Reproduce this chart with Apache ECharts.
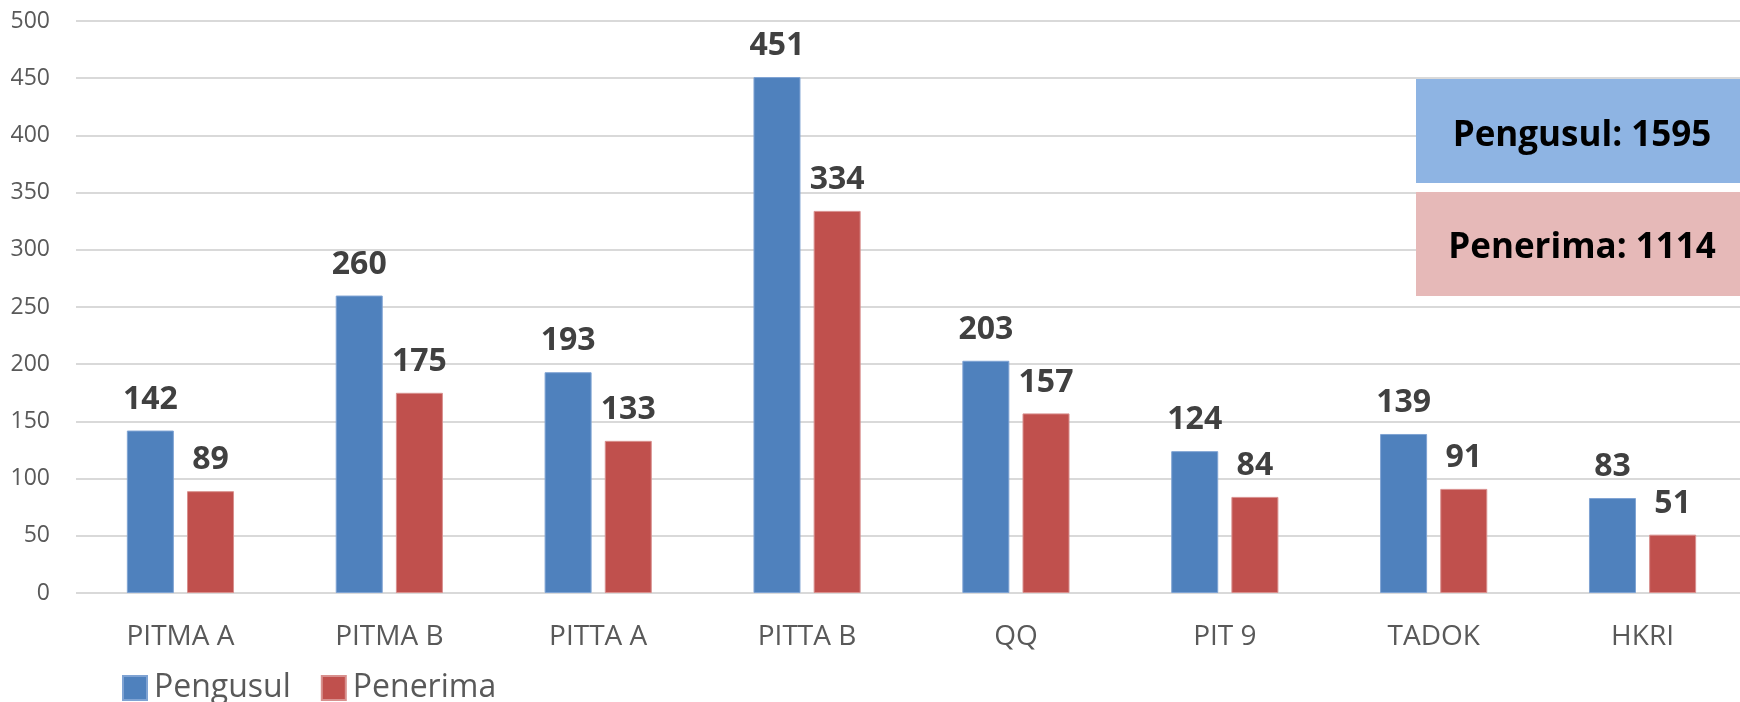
<!DOCTYPE html>
<html>
<head>
<meta charset="utf-8">
<script src="https://cdn.jsdelivr.net/npm/echarts@6/dist/echarts.min.js"></script>
<style>
html,body{margin:0;padding:0;background:#fff;}
#chart{width:1740px;height:702px;}
</style>
</head>
<body>
<div id="chart"></div>
<script>
const categories = ['PITMA A', 'PITMA B', 'PITTA A', 'PITTA B', 'QQ', 'PIT 9', 'TADOK', 'HKRI'];
const pengusul = [142, 260, 193, 451, 203, 124, 139, 83];
const penerima = [89, 175, 133, 334, 157, 84, 91, 51];
const yTicks = { min: 0, max: 500, interval: 50 };

const sum = a => a.reduce((s, v) => s + v, 0);
const totalPengusul = sum(pengusul);
const totalPenerima = sum(penerima);

const chart = echarts.init(document.getElementById('chart'), null, { renderer: 'canvas' });
const FONT = '"Open Sans", "Noto Sans", sans-serif';

const labelStyle = {
  show: true,
  position: 'top',
  distance: 15,
  fontFamily: FONT,
  fontWeight: 'bold',
  fontSize: 32,
  color: '#404040'
};

chart.setOption({
  animation: false,
  backgroundColor: '#ffffff',
  textStyle: { fontFamily: FONT },
  grid: {
    left: 76,
    top: 21,
    width: 1671,
    height: 572,
    containLabel: false,
    outerBoundsMode: 'none'
  },
  legend: {
    data: ['Pengusul', 'Penerima'],
    left: 117,
    top: 667,
    itemWidth: 24,
    itemHeight: 24,
    itemGap: 30,
    icon: 'rect',
    textStyle: { fontFamily: FONT, fontSize: 32, color: '#595959', padding: [0, 0, 0, 2] }
  },
  xAxis: {
    type: 'category',
    data: categories,
    axisLine: { show: false },
    axisTick: { show: false },
    axisLabel: { fontFamily: FONT, fontSize: 28, color: '#595959', margin: 30 }
  },
  yAxis: {
    type: 'value',
    min: yTicks.min,
    max: yTicks.max,
    interval: yTicks.interval,
    axisLine: { show: false },
    axisTick: { show: false },
    axisLabel: { fontFamily: FONT, fontSize: 23, color: '#595959', margin: 26 },
    splitLine: { lineStyle: { color: '#D9D9D9', width: 2 } }
  },
  series: [
    {
      name: 'Pengusul',
      type: 'bar',
      data: pengusul,
      barWidth: 47,
      barGap: '28%',
      itemStyle: { color: '#4F81BD', borderColor: '#7FA3D3', borderWidth: 1 },
      label: labelStyle
    },
    {
      name: 'Penerima',
      type: 'bar',
      data: penerima,
      barWidth: 47,
      barGap: '28%',
      itemStyle: { color: '#C0504D', borderColor: '#D8908E', borderWidth: 1 },
      label: labelStyle
    }
  ],
  graphic: [
    {
      type: 'group',
      left: 1416,
      top: 79,
      z: 100,
      children: [
        { type: 'rect', z: 100, shape: { x: 0, y: 0, width: 324, height: 104 }, style: { fill: '#8EB4E3' } },
        { type: 'text', z: 101, x: 166, y: 57, style: { text: 'Pengusul: ' + totalPengusul, fontFamily: FONT, fontWeight: 'bold', fontSize: 35, fill: '#000000', align: 'center', verticalAlign: 'middle' } }
      ]
    },
    {
      type: 'group',
      left: 1416,
      top: 192,
      z: 100,
      children: [
        { type: 'rect', z: 100, shape: { x: 0, y: 0, width: 324, height: 104 }, style: { fill: '#E6B9B8' } },
        { type: 'text', z: 101, x: 166, y: 56, style: { text: 'Penerima: ' + totalPenerima, fontFamily: FONT, fontWeight: 'bold', fontSize: 35, fill: '#000000', align: 'center', verticalAlign: 'middle' } }
      ]
    }
  ]
});
</script>
</body>
</html>
